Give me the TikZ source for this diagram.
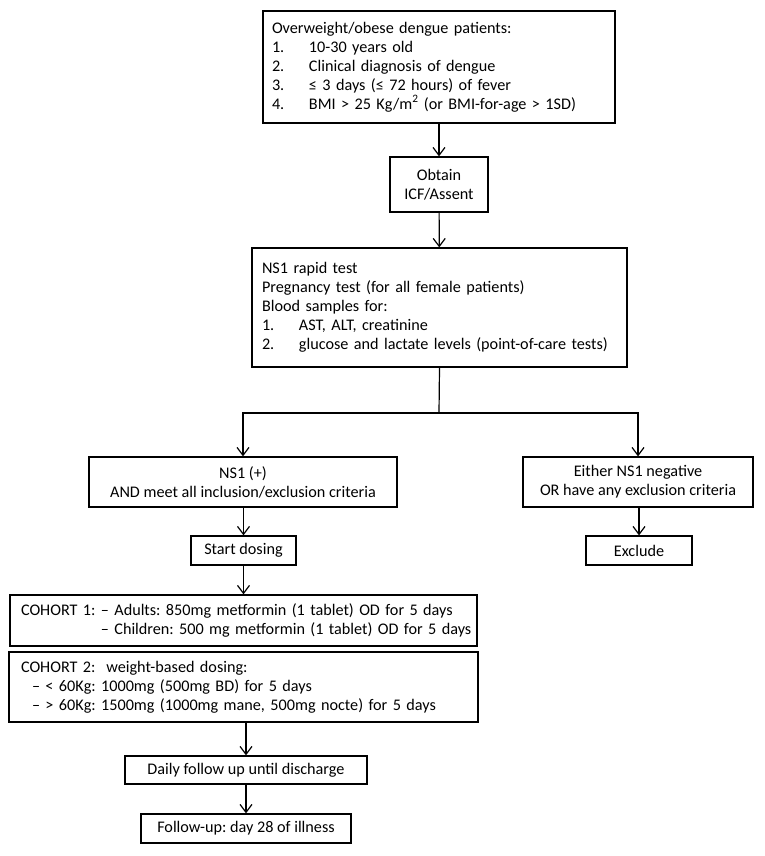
\documentclass[tikz,border=0pt]{standalone}
\usepackage{fontspec}
\setmainfont{Carlito}
\usetikzlibrary{arrows.meta}
\tikzset{
  box/.style={draw=black, line width=1.2pt, fill=white, font=\fontsize{16.2}{19}\selectfont\frenchspacing, inner ysep=2pt},
  lbox/.style={box, align=left},
  cbox/.style={box, align=center, inner xsep=2pt},
  arr/.style={line width=1.2pt, -{Straight Barb[length=8pt,width=12pt,line width=1.2pt]}},
  ln/.style={line width=1.2pt, line cap=rect}
}
\newcommand{\itm}[1]{\makebox[37pt][l]{#1}}
\begin{document}
\begin{tikzpicture}[x=1pt,y=-1pt]
\useasboundingbox (0,0) rectangle (764,856);
\node[lbox, inner xsep=9pt, text width=334pt, minimum height=112pt] (b1) at (439,67)
 {Overweight/obese dengue patients:\\
  \itm{1.}10-30 years old\\
  \itm{2.}Clinical diagnosis of dengue\\
  \itm{3.}≤ 3 days (≤ 72 hours) of fever\\
  \itm{4.}BMI > 25 Kg/m\textsuperscript{2} (or BMI-for-age > 1SD)};
\node[cbox, minimum width=98pt, minimum height=55pt] (b2) at (439,184.5)
 {Obtain\\ICF/Assent};
\node[lbox, inner xsep=10pt, text width=355pt, minimum height=119pt] (b3) at (439.5,307.5)
 {NS1 rapid test\\
  Pregnancy test (for all female patients)\\
  Blood samples for:\\
  \itm{1.}AST, ALT, creatinine\\
  \itm{2.}glucose and lactate levels (point-of-care tests)};
\node[cbox, minimum width=308pt, minimum height=50pt] (pos) at (243,482)
 {NS1 (+)\\AND meet all inclusion/exclusion criteria};
\node[cbox, minimum width=230pt, minimum height=50pt] (neg) at (638,482)
 {Either NS1 negative\\OR have any exclusion criteria};
\node[cbox, minimum width=105pt, minimum height=29pt] (start) at (243.5,550.5) {Start dosing};
\node[cbox, minimum width=106pt, minimum height=29pt] (excl) at (639,550.5) {Exclude};
\node[lbox, inner xsep=11pt, text width=445pt, minimum height=51pt] (c1) at (243.5,620.5)
 {\mbox{COHORT 1: – Adults: 850mg metformin (1 tablet) OD for 5 days}\\
  \mbox{\phantom{COHORT 1: }– Children: 500 mg metformin (1 tablet) OD for 5 days}};
\node[lbox, inner xsep=12pt, text width=445pt, minimum height=70pt] (c2) at (243.5,687)
 {\mbox{COHORT 2:\ \ weight-based dosing:}\\
  \mbox{\hspace*{11pt}– < 60Kg: 1000mg (500mg BD) for 5 days}\\
  \mbox{\hspace*{11pt}– > 60Kg: 1500mg (1000mg mane, 500mg nocte) for 5 days}};
\node[cbox, minimum width=242pt, minimum height=28pt] (daily) at (246,770) {Daily follow up until discharge};
\node[cbox, minimum width=210pt, minimum height=29pt] (fu) at (246,828.5) {Follow-up: day 28 of illness};
\coordinate (br) at (439,413);
\coordinate (brl) at (pos.north |- br);
\coordinate (brr) at (neg.north |- br);
\draw[arr] (b1) -- (b2);
\draw[arr] (b2) -- (b3);
\draw[ln] (b3.south) -- (br);
\draw[ln] (brl) -- (brr);
\draw[arr] (brl) -- (pos.north);
\draw[arr] (brr) -- (neg.north);
\draw[arr] (pos.south -| start.north) -- (start.north);
\draw[arr] (neg.south -| excl.north) -- (excl.north);
\draw[arr] (start.south) -- (start.south |- c1.north);
\draw[arr] (daily.north |- c2.south) -- (daily.north);
\draw[arr] (fu.north |- daily.south) -- (fu.north);
\end{tikzpicture}
\end{document}
